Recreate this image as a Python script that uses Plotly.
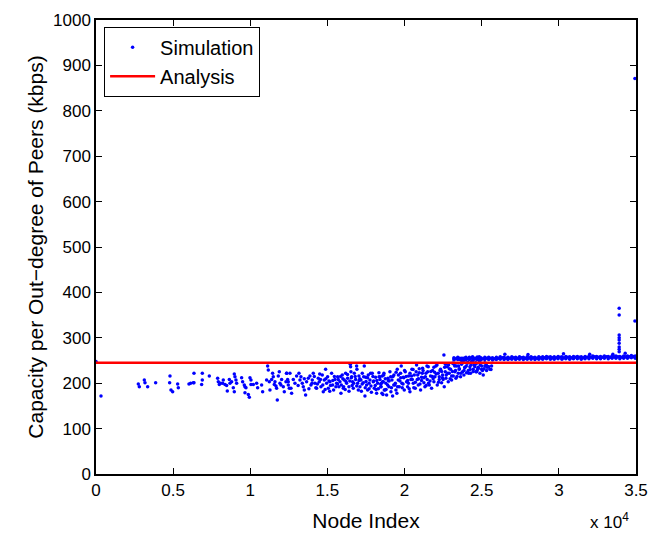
import plotly.graph_objects as go

# ---- data ----
# sparse left part
sim_x_a = [0, 324, 2743, 2808, 3132, 3175, 3348, 3866, 4795, 4773, 4860, 4968, 5292, 5335, 6026, 6134, 6350, 6350]
sim_y_a = [248, 172, 198, 192, 207, 201, 192, 201, 216, 201, 185, 181, 198, 190, 198, 200, 222, 201]

sim_x_b = [6307, 6890, 6890, 6847, 7344, 7884, 7927, 7992, 8078, 8208, 8251, 8359, 8467, 8510, 8640, 8683,
           8791, 8899, 8964, 9007, 9072, 8964, 9115, 9439, 9504, 9612, 9655, 9655, 9720, 9871, 9936, 9979,
           10044, 10044, 10195, 10411, 10476, 10735, 10800, 11059, 11124, 11167, 11232, 11275, 11383, 11447,
           11491, 11556, 11599, 11664, 11707, 11750, 11815, 11880, 11923, 11988, 12031, 12139, 12204, 12312,
           12355, 12420, 12463, 12528]
sim_y_b = [201, 222, 207, 197, 216, 211, 203, 197, 200, 200, 207, 197, 195, 183, 208, 200,
           203, 190, 220, 214, 207, 181, 200, 212, 203, 196, 192, 179, 190, 175, 169, 212,
           207, 197, 197, 200, 190, 196, 181, 207, 238, 229, 203, 185, 208, 222,
           214, 197, 203, 194, 189, 163, 216, 225, 200, 196, 208, 192, 181, 203,
           222, 208, 196, 189]

# dense middle part
sim_x_c = [12355, 12463, 12571, 12636, 12679, 12787, 12895, 13003, 13154, 13219, 13284, 13370, 13435, 13500,
           13586, 13651, 13759, 13867, 13932, 14018, 14083, 14191, 14299, 14407, 14472, 14580, 14666, 14731,
           14796, 14882, 14947, 15012, 15055, 15163, 15271, 15336, 15401, 15487, 15595, 15660, 15746, 15811,
           15876, 15962, 16027, 16092, 16178, 16243, 16308, 16394, 16481, 16502, 16524, 16567, 16632, 16675,
           16740, 16826, 16891, 16913, 16956, 17042, 17107, 17172, 17258, 17323, 17388, 17431, 17474, 17539,
           17604, 17647, 17755, 17820, 17906, 17971, 18036, 18122, 18187, 18252, 18338, 18403, 18468, 18554,
           18619, 18684]
sim_y_c = [222, 203, 222, 189, 178, 208, 200, 216, 222, 207, 214, 200, 192, 185,
           174, 203, 211, 216, 196, 207, 222, 200, 189, 211, 203, 192, 218, 181,
           207, 231, 200, 214, 189, 203, 222, 196, 185, 208, 200, 214, 192, 203,
           178, 218, 189, 207, 222, 200, 211, 192, 242, 236, 225, 214, 203, 189,
           222, 208, 238, 231, 200, 216, 192, 207, 222, 201, 238, 172, 213, 196,
           185, 218, 207, 194, 222, 203, 189, 213, 178, 200, 223, 208, 192, 216,
           203, 185]

sim_x_d = [18403, 18468, 18533, 18576, 18662, 18727, 18792, 18835, 18921, 18986, 19051, 19116, 19181, 19224,
           19310, 19375, 19440, 19526, 19591, 19656, 19742, 19785, 19829, 19915, 19980, 20045, 20131, 20196,
           20261, 20347, 20412, 20477, 20563, 20628, 20693, 20779, 20822, 20887, 20952, 21038, 21103, 21168,
           21254, 21319, 21384, 21470, 21535, 21600, 21686, 21751, 21816, 21902, 21967, 22032, 22118, 22183,
           22248, 22334, 22399, 22464, 22550, 22572, 22637, 22680, 22766, 22831, 22896, 22982, 23047, 23112,
           23155, 23198, 23263, 23328, 23371, 23414, 23479, 23544, 23587, 23630, 23695, 23760, 23803, 23846,
           23911, 23976, 24019, 24062, 24127, 24192, 24235, 24278, 24343, 24408, 24451, 24494, 24559, 24624,
           24667, 24710, 24775, 24840, 24840]
sim_y_d = [214, 192, 178, 203, 222, 185, 200, 174, 211, 192, 225, 181, 207, 172,
           218, 196, 185, 231, 207, 192, 222, 238, 200, 213, 185, 225, 203, 192,
           216, 181, 208, 231, 200, 218, 189, 240, 208, 196, 223, 185, 213, 233,
           201, 192, 222, 208, 236, 196, 216, 189, 228, 203, 214, 238, 196, 222,
           208, 231, 201, 218, 262, 192, 225, 211, 236, 203, 222, 231, 207, 244,
           216, 254, 225, 211, 238, 255, 222, 231, 252, 214, 242, 225, 255, 218,
           235, 257, 223, 244, 228, 254, 236, 222, 247, 258, 231, 240, 254, 225,
           244, 257, 233, 250, 258]

sim_x_e = [13100, 13500, 13800, 14150, 14350, 14550, 14850, 15100, 15200, 15450, 15550, 15700, 15900, 16000,
           16150, 16300, 16450, 16600, 16800, 17000, 17100, 17250, 17450, 17600, 17700, 17850, 17950, 18100,
           18200, 18300, 18500, 18600, 18750, 18900, 19000, 19150, 19250, 19400, 19500, 19600, 19700, 19850,
           19950, 20100, 20250, 20350, 20500, 20600, 20750, 20900, 21000, 21150, 21250, 21400, 21500, 21650,
           21800, 21900, 22050, 22200, 22300, 22450, 22600, 22700, 22850, 22950, 23100, 23250, 23400, 23550,
           23700, 23850, 24000, 24150, 24300, 24450, 24600, 24750, 24900, 25050, 25200, 25350,
           24559, 24667, 24775, 24883, 24991, 25099, 25207, 25315, 25423, 25531, 25639]
sim_y_e = [195, 210, 188, 215, 198, 208, 186, 205, 195, 215, 192, 208, 196, 210,
           186, 219, 205, 195, 215, 185, 210, 198, 190, 212, 200, 180, 215, 195,
           206, 188, 200, 175, 210, 196, 205, 190, 215, 200, 178, 218, 205, 190,
           212, 215, 200, 222, 208, 190, 225, 210, 198, 222, 212, 195, 225, 205,
           215, 235, 220, 202, 228, 212, 235, 218, 240, 210, 226, 238, 215, 232,
           245, 228, 238, 222, 240, 226, 245, 232, 240, 228, 245, 235,
           240, 225, 235, 222, 231, 218, 238, 228, 236, 231, 238]

sim_x_g = [14000, 14250, 14500, 14700, 14900, 15150, 15350, 15650, 15850, 16050, 16200, 16400, 16550, 16700,
           16900, 17050, 17200, 17350, 17500, 17700, 17800, 18000, 18150, 18350, 18450, 18650, 18800, 18950,
           19100, 19300, 19450, 19550, 19750, 19900, 20000, 20200, 20300, 20450, 20550, 20700, 20850, 20950,
           21100, 21200, 21350, 21450, 21550, 21700, 21850, 21950, 22100, 22250, 22400, 22500, 22650, 22800,
           22900, 23050, 23200, 23300, 23500, 23650, 23800, 23900, 24100, 24250, 24400, 24550, 24700, 24850,
           25000, 25150, 25300, 25450, 25600]
sim_y_g = [200, 190, 220, 196, 210, 182, 206, 198, 215, 192, 204, 182, 212, 200,
           194, 206, 182, 214, 204, 188, 222, 205, 186, 214, 198, 218, 186, 206,
           214, 196, 224, 192, 212, 198, 228, 206, 188, 216, 230, 202, 218, 232,
           206, 228, 214, 238, 200, 226, 210, 224, 240, 214, 226, 208, 242, 222,
           232, 216, 242, 228, 238, 222, 248, 234, 246, 230, 248, 236, 228, 246,
           238, 232, 240, 236, 230]

# flat band on the right
band_x = [23200, 23450, 23700, 23950, 24200, 24450, 24700, 24950, 25200, 25450, 25700, 25950, 26200, 26450,
          26700, 26950, 27200, 27450, 27700, 27950, 28200, 28450, 28700, 28950, 29200, 29450, 29700, 29950,
          30200, 30450, 30700, 30950, 31200, 31450, 31700, 31950, 32200, 32450, 32700, 32950, 33200, 33450,
          33700, 33950, 34200, 34450, 34700, 34950]
band_x2 = [23330, 23580, 23830, 24080, 24330, 24580, 24830, 25080, 25330, 25580, 25830, 26080, 26330, 26580,
           26830, 27080, 27330, 27580, 27830, 28080, 28330, 28580, 28830, 29080, 29330, 29580, 29830, 30080,
           30330, 30580, 30830, 31080, 31330, 31580, 31830, 32080, 32330, 32580, 32830, 33080, 33330, 33580,
           33830, 34080, 34330, 34580, 34830, 34980]
band_lo = [251, 252, 250, 251, 252, 251, 252, 251, 252, 252, 251, 252, 253, 252,
           252, 253, 252, 253, 252, 253, 253, 252, 253, 253, 254, 253, 253, 254,
           253, 254, 253, 254, 254, 253, 254, 254, 255, 254, 254, 255, 254, 255,
           255, 254, 255, 255, 256, 255]
band_mid = [254, 255, 253, 254, 255, 254, 255, 254, 255, 255, 254, 255, 256, 255,
            255, 256, 255, 256, 255, 256, 256, 255, 256, 256, 257, 256, 256, 257,
            256, 257, 256, 257, 257, 256, 257, 257, 258, 257, 257, 258, 257, 258,
            258, 257, 258, 258, 259, 258]
band_hi = [256, 257, 255, 256, 257, 256, 257, 256, 257, 257, 256, 257, 258, 257,
           257, 258, 257, 258, 257, 258, 258, 257, 258, 258, 259, 258, 258, 259,
           258, 259, 258, 259, 259, 258, 259, 259, 260, 259, 259, 260, 259, 260,
           260, 259, 260, 260, 261, 260]

# outliers above the band and the spike near the right end
sim_x_f = [26500, 28000, 30300, 32000, 33500, 34300,
           33910, 33910, 33910, 33910, 33910, 33910, 33910, 33910, 33910, 34930, 34930]
sim_y_f = [264, 263, 265, 264, 264, 266,
           365, 350, 306, 300, 295, 288, 280, 275, 269, 337, 871]

analysis_x = [0, 35000]
analysis_y = [245, 245]

x_ticks = [0, 5000, 10000, 15000, 20000, 25000, 30000, 35000]
x_tick_labels = ["0", "0.5", "1", "1.5", "2", "2.5", "3", "3.5"]
y_ticks = [0, 100, 200, 300, 400, 500, 600, 700, 800, 900, 1000]

sim_x = (sim_x_a + sim_x_b + sim_x_c + sim_x_d + sim_x_e + sim_x_g
         + band_x + band_x2 + band_x + sim_x_f)
sim_y = (sim_y_a + sim_y_b + sim_y_c + sim_y_d + sim_y_e + sim_y_g
         + band_lo + band_mid + band_hi + sim_y_f)

FONT = "Liberation Sans, Arial, Helvetica, sans-serif"

fig = go.Figure()
fig.add_trace(go.Scatter(
    x=sim_x, y=sim_y, mode="markers", name="Simulation",
    marker=dict(color="#0000ff", size=3.5, line=dict(width=0)),
    cliponaxis=False,
))
fig.add_trace(go.Scatter(
    x=analysis_x, y=analysis_y, mode="lines", name="Analysis",
    line=dict(color="#ff0000", width=2.5),
))

axis_common = dict(
    showgrid=False, zeroline=False, showline=True, linecolor="black", linewidth=1.5,
    mirror="ticks", ticks="inside", ticklen=6, tickwidth=1, tickcolor="black",
    tickfont=dict(family=FONT, size=17, color="black"), automargin=False,
)

fig.update_layout(
    width=660, height=535,
    margin=dict(l=96, r=24, t=20, b=61),
    paper_bgcolor="white", plot_bgcolor="white",
    font=dict(family=FONT, color="black"),
    showlegend=True,
    legend=dict(
        x=0.015, y=0.985, xanchor="left", yanchor="top",
        bgcolor="white", bordercolor="black", borderwidth=1,
        font=dict(family=FONT, size=20, color="black"),
        tracegroupgap=0, itemwidth=45,
    ),
    xaxis=dict(
        range=[0, 35000], tickvals=x_ticks, ticktext=x_tick_labels,
        title=dict(text="Node Index", font=dict(family=FONT, size=21), standoff=14),
        **axis_common,
    ),
    yaxis=dict(
        range=[0, 1000], tickvals=y_ticks,
        title=dict(text="Capacity per Out\u2212degree of Peers (kbps)", font=dict(family=FONT, size=21), standoff=4),
        **axis_common,
    ),
    annotations=[dict(
        text="x 10<sup>4</sup>", xref="paper", yref="paper", x=0.99, y=-0.103,
        xanchor="right", yanchor="middle", showarrow=False,
        font=dict(family=FONT, size=17, color="black"),
    )],
)

fig.write_html("out.html")
